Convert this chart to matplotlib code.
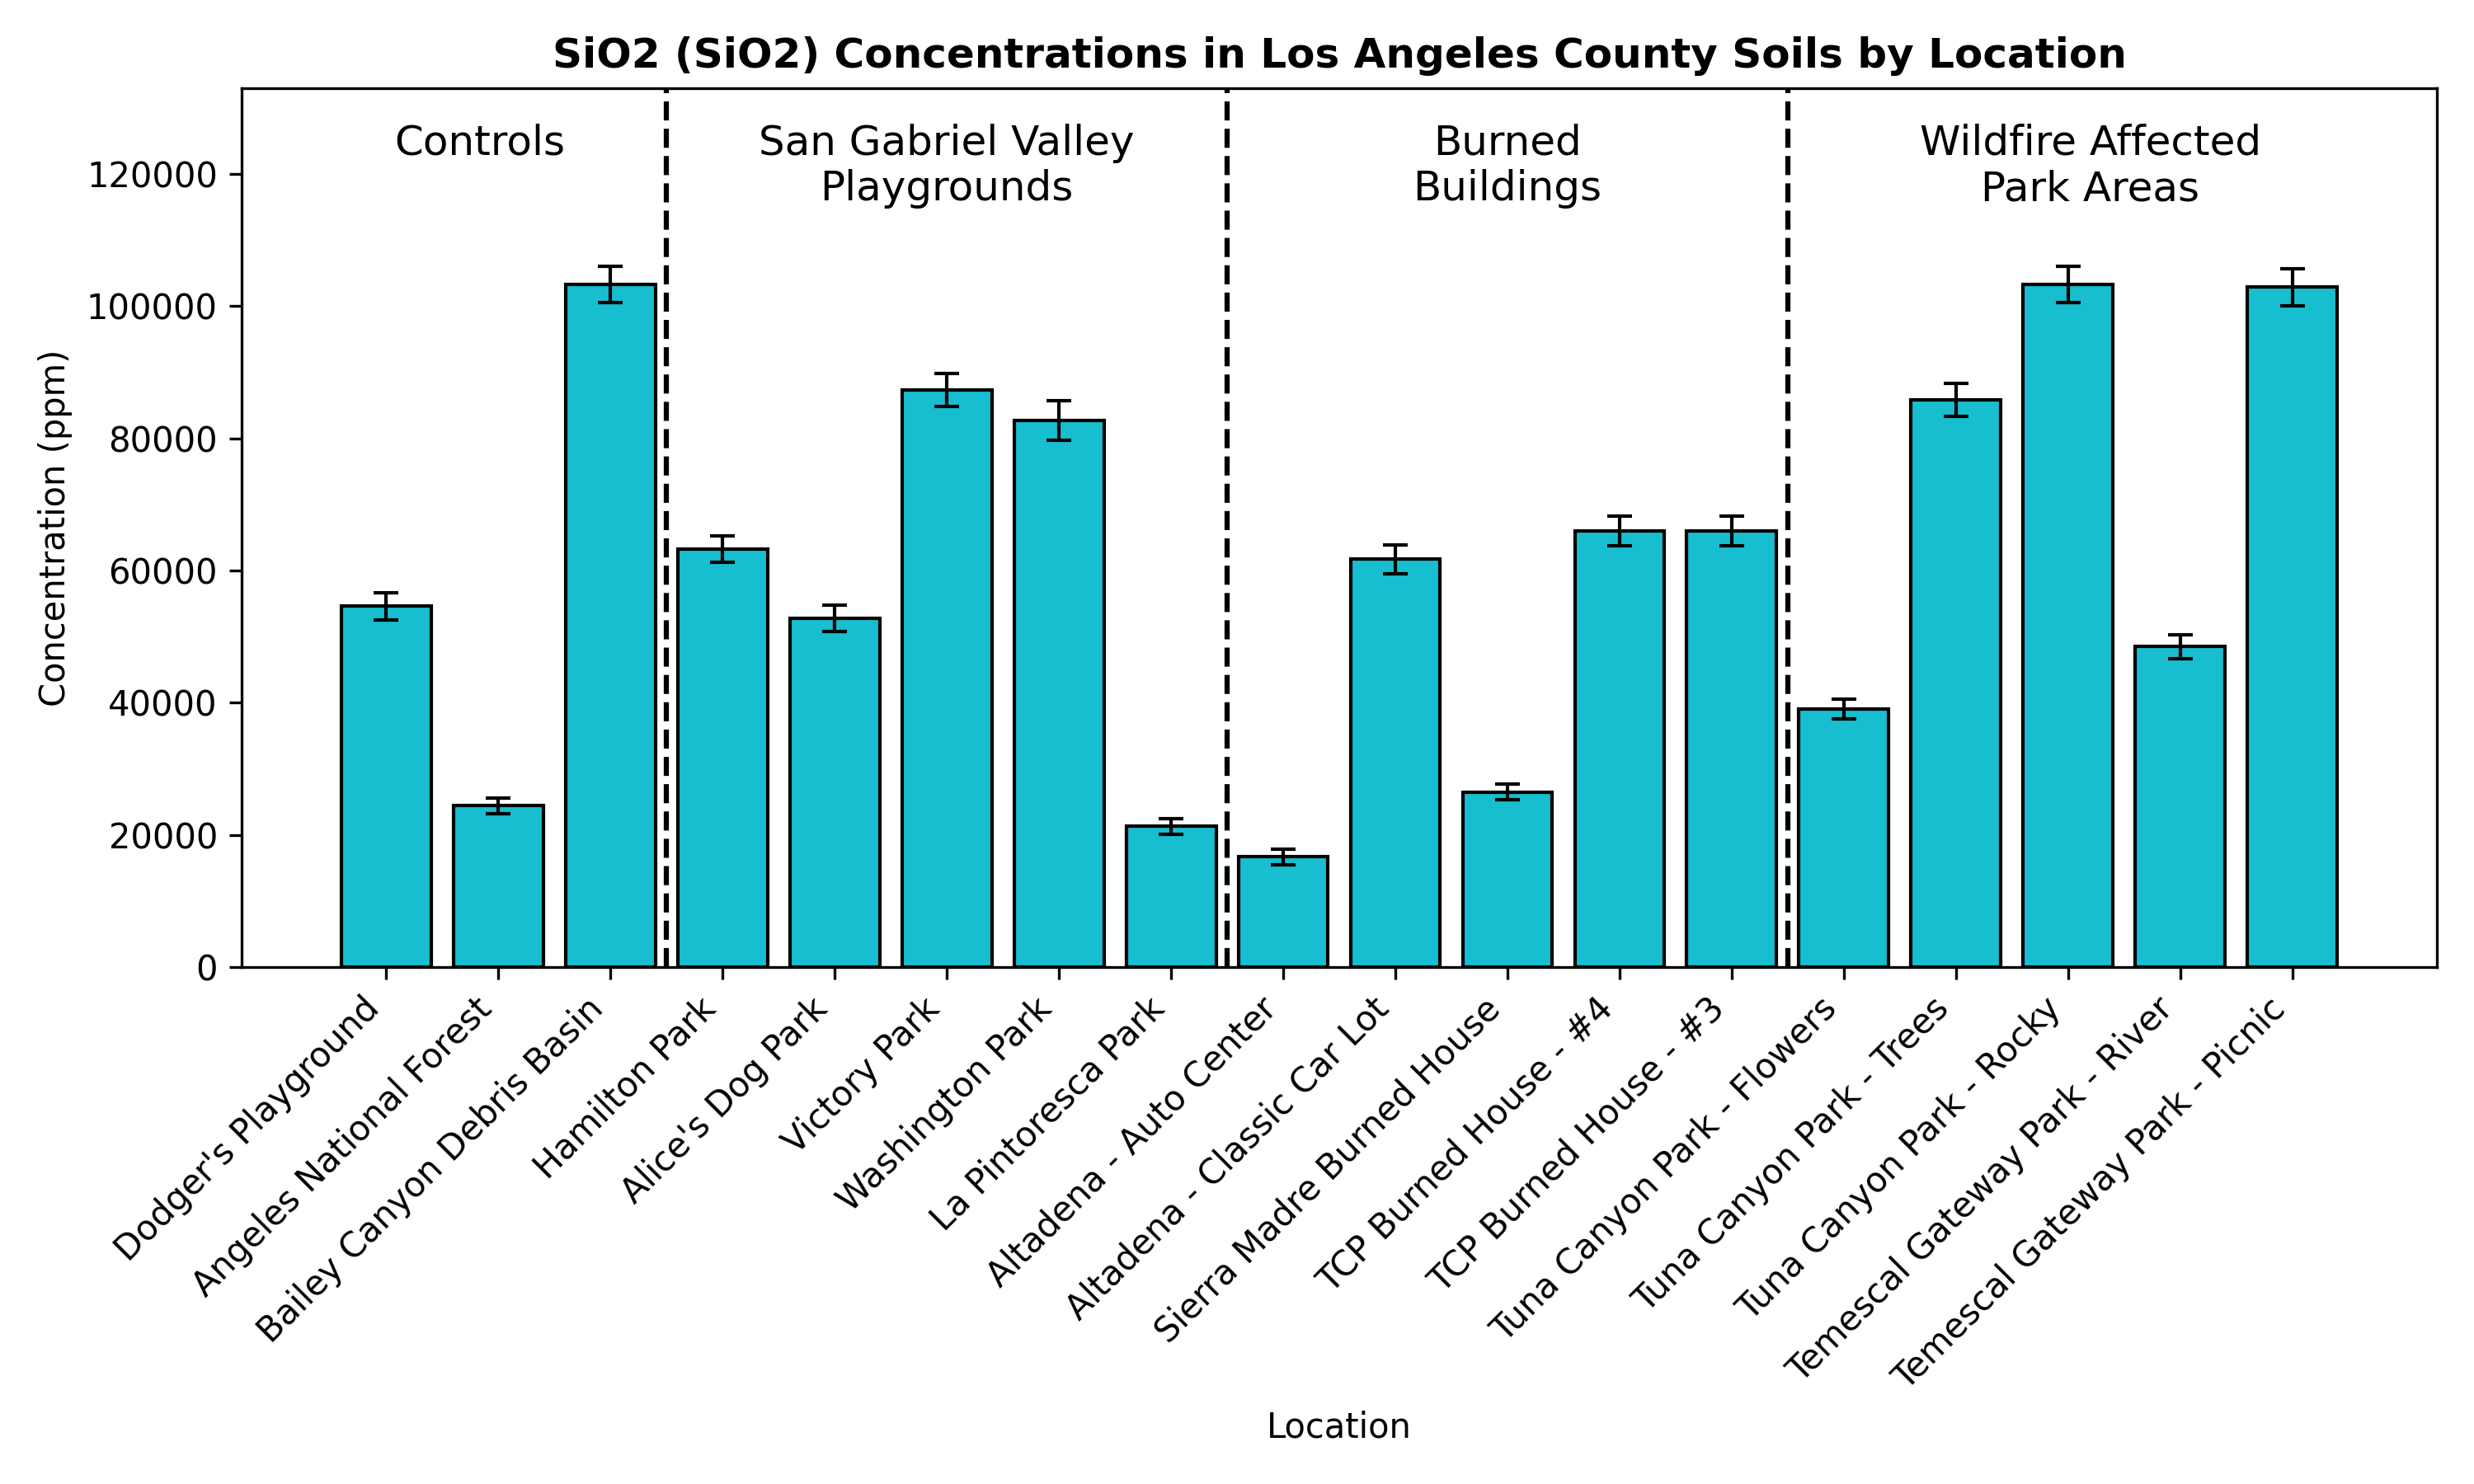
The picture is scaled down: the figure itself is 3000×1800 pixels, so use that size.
import numpy as np
import matplotlib
matplotlib.use('Agg')
import matplotlib.pyplot as plt

# sample locations, in plotting order
locations = ["Dodger's Playground", "Angeles National Forest", "Bailey Canyon Debris Basin",
             "Hamilton Park", "Alice's Dog Park", "Victory Park", "Washington Park",
             "La Pintoresca Park",
             "Altadena - Auto Center", "Altadena - Classic Car Lot", "Sierra Madre Burned House",
             "TCP Burned House - #4", "TCP Burned House - #3",
             "Tuna Canyon Park - Flowers", "Tuna Canyon Park - Trees", "Tuna Canyon Park - Rocky",
             "Temescal Gateway Park - River", "Temescal Gateway Park - Picnic"]

sio2_ppm = [54600, 24400, 103300,
            63300, 52800, 87300, 82700, 21300,
            16700, 61700, 26500, 66000, 66000,
            39000, 85800, 103300, 48500, 102900]

sio2_err = [2100, 1200, 2700,
            2000, 2000, 2500, 3000, 1200,
            1200, 2200, 1200, 2200, 2200,
            1500, 2500, 2700, 1800, 2800]

group_names = ['Controls', 'San Gabriel Valley\nPlaygrounds', 'Burned\nBuildings',
               'Wildfire Affected\nPark Areas']
group_sizes = [3, 5, 5, 5]

x = np.arange(len(locations))

fig, ax = plt.subplots(figsize=(10, 6), dpi=300)
ax.bar(x, sio2_ppm, width=0.8, color='#17becf', edgecolor='black', linewidth=1.0,
       yerr=sio2_err, capsize=3.6, error_kw=dict(elinewidth=1.0, capthick=1.0, ecolor='black'))

# dividers between groups and group labels
bounds = np.cumsum([0] + group_sizes)
label_x = [0.83, 5.0, 10.0, 15.2]
for i, name in enumerate(group_names):
    if i > 0:
        ax.axvline(bounds[i] - 0.5, color='black', linestyle='--', linewidth=1.5)
    ax.text(label_x[i], 0.96, name, transform=ax.get_xaxis_transform(),
            ha='center', va='top', fontsize=12)

ax.set_xlim(-1.29, 18.29)
ax.set_ylim(0, 133000)
ax.set_xticks(x)
ax.set_xticklabels(locations, rotation=45, ha='right', fontsize=10)
ax.set_ylabel('Concentration (ppm)')
ax.set_xlabel('Location')
ax.set_title('SiO2 (SiO2) Concentrations in Los Angeles County Soils by Location',
             fontweight='bold', fontsize=12)

fig.subplots_adjust(left=0.0977, right=0.985, top=0.9406, bottom=0.3483)
fig.savefig('out.png', dpi=300)
